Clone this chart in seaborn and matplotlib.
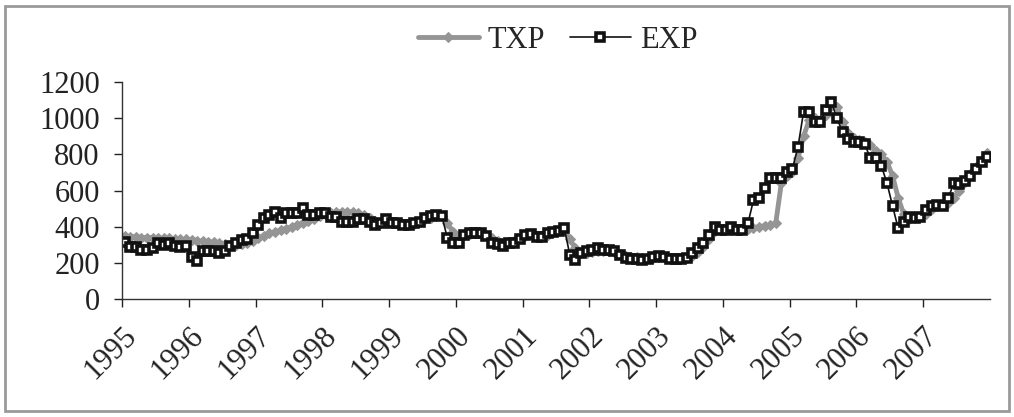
import numpy as np
import pandas as pd
import matplotlib
matplotlib.use("Agg")
import matplotlib.pyplot as plt
import seaborn as sns
from matplotlib.patches import Rectangle

# monthly values, Jan 1995 .. Dec 2007
years = [str(y) for y in range(1995, 2008)]

txp = [350, 345, 345, 340, 340, 340, 340, 335, 335, 330, 330, 330,
       325, 320, 320, 315, 315, 310, 305, 300, 300, 305, 310, 320,
       340, 350, 365, 372, 380, 390, 400, 410, 420, 430, 445, 460,
       470, 475, 480, 483, 483, 480, 475, 465, 450, 430, 420, 425,
       425, 420, 415, 410, 415, 425, 440, 450, 460, 460, 420, 370,
       345, 355, 360, 365, 360, 355, 335, 320, 310, 315, 320, 335,
       350, 355, 350, 350, 355, 370, 375, 380, 330, 280, 255, 255,
       260, 265, 265, 265, 260, 250, 240, 235, 230, 228, 225, 228,
       232, 230, 225, 222, 222, 225, 240, 260, 290, 330, 375, 380,
       380, 385, 385, 385, 390, 395, 400, 405, 410, 420, 640, 680,
       700, 780, 900, 990, 1000, 990, 1020, 1070, 1060, 980, 920, 890,
       880, 870, 850, 820, 800, 760, 680, 560, 470, 440, 450, 455,
       470, 500, 515, 520, 530, 560, 600, 650, 690, 730, 770, 810]

exp = [317, 289, 289, 271, 271, 280, 308, 300, 308, 293, 286, 293,
       234, 210, 265, 265, 268, 256, 268, 293, 308, 326, 330, 363,
       409, 446, 465, 483, 446, 475, 475, 475, 502, 465, 465, 475,
       475, 455, 455, 428, 428, 428, 440, 440, 428, 409, 419, 440,
       419, 419, 409, 409, 419, 428, 446, 458, 465, 458, 335, 308,
       308, 354, 363, 367, 363, 350, 308, 304, 293, 308, 308, 330,
       354, 358, 345, 345, 363, 372, 378, 391, 243, 216, 253, 267,
       273, 280, 271, 271, 265, 243, 225, 219, 219, 216, 219, 234,
       238, 230, 219, 219, 219, 225, 253, 280, 308, 354, 396, 382,
       382, 396, 382, 382, 419, 547, 557, 612, 667, 672, 672, 704,
       722, 842, 1036, 1036, 981, 981, 1045, 1091, 999, 925, 888, 870,
       870, 857, 778, 778, 735, 640, 514, 391, 428, 452, 446, 452,
       492, 514, 520, 514, 557, 643, 636, 654, 680, 717, 759, 785]

month = np.arange(len(exp))
df = pd.DataFrame({"month": month, "TXP": txp, "EXP": exp})

sns.set_style("white")
plt.rcParams['font.family'] = ['Liberation Serif', 'DejaVu Serif']

fig = plt.figure(figsize=(10.14, 4.17), dpi=100)
ax = fig.add_axes([0.1203, 0.283, 0.856, 0.52])

sns.lineplot(data=df, x="month", y="TXP", ax=ax, color="#959595", lw=3.5,
             marker="D", markersize=5, markeredgecolor="#959595", label="TXP")
sns.lineplot(data=df, x="month", y="EXP", ax=ax, color="#111111", lw=1.2,
             marker="s", markersize=6, markerfacecolor="white",
             markeredgecolor="#111111", markeredgewidth=2.6, label="EXP")

ax.set_xlim(-0.5, 155.5)
ax.set_ylim(0, 1200)
ax.set_yticks(range(0, 1201, 200))
ax.set_xticks([12 * i - 0.5 for i in range(len(years))])
ax.set_xticklabels(years, rotation=45, ha="right", rotation_mode="anchor")
ax.tick_params(axis="both", labelsize=22, direction="out", length=6,
               width=1, colors="#222222", left=True, bottom=True)
ax.tick_params(axis="x", pad=10)
ax.tick_params(axis="y", pad=10)
ax.set_xlabel("")
ax.set_ylabel("")
for s in ["top", "right"]:
    ax.spines[s].set_visible(False)
for s in ["left", "bottom"]:
    ax.spines[s].set_color("#333333")
    ax.spines[s].set_linewidth(1)

ax.legend(loc="center", bbox_to_anchor=(0.55, 0.904), bbox_transform=fig.transFigure,
          ncol=2, frameon=False, fontsize=22, handlelength=2.0,
          columnspacing=0.8, handletextpad=0.3)

# outer chart frame
fig.patches.append(Rectangle((0.005, 0.015), 0.99, 0.97, transform=fig.transFigure,
                             fill=False, edgecolor="#9a9a9a", lw=2))

fig.savefig("out.png", dpi=100)
